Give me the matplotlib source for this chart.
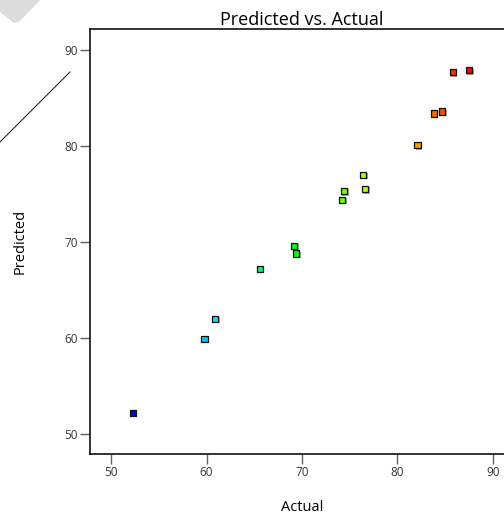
import numpy as np
import matplotlib.pyplot as plt
from matplotlib.colors import LinearSegmentedColormap
from matplotlib.patches import Polygon
from matplotlib.lines import Line2D
import matplotlib.patheffects as pe

plt.rcParams['font.family'] = ['Open Sans', 'DejaVu Sans']

# Datos (Actual vs Predicted)
actual = [52.3, 59.8, 60.9, 65.6, 69.2, 69.4, 74.2, 74.4, 76.4, 76.6,
          82.1, 83.8, 84.7, 85.8, 87.5]
predicted = [52.2, 59.9, 62.0, 67.2, 69.6, 68.8, 74.4, 75.3, 77.0, 75.5,
             80.1, 83.4, 83.6, 87.7, 87.9]
x_ticks = [50, 60, 70, 80, 90]
y_ticks = [50, 60, 70, 80, 90]

# Escala de color azul -> cian -> verde -> amarillo -> rojo
cmap = LinearSegmentedColormap.from_list(
    "de", ["#0000e0", "#00e5ff", "#00ff00", "#e5ff00", "#ff0000"])

fig = plt.figure(figsize=(5.04, 5.17), dpi=100)
ax = fig.add_axes([90/504, 1 - 454/517, 424/504, 425/517])

ax.scatter(actual, predicted, c=actual, cmap=cmap, marker='s', s=20,
           edgecolors='#111111', linewidths=0.9, zorder=3,
           path_effects=[pe.SimplePatchShadow(offset=(1, -1), shadow_rgbFace='#888888', alpha=0.7),
                         pe.Normal()])

ax.set_xlim(47.8, 92.2)
ax.set_ylim(47.9, 92.2)
ax.set_xticks(x_ticks)
ax.set_yticks(y_ticks)
ax.tick_params(direction='out', length=7, width=1, colors='#606060',
               labelcolor='#333333', labelsize=8.5, pad=2)
for s in ['left', 'bottom', 'top', 'right']:
    ax.spines[s].set_linewidth(1.2)
    ax.spines[s].set_color('#111111')

ax.set_title("Predicted vs. Actual", fontsize=13, pad=3)
ax.set_xlabel("Actual", fontsize=10.5, labelpad=15)
ax.set_ylabel("Predicted", fontsize=10.5, labelpad=26)

# Restos del recorte de la figura original (esquina superior izquierda)
fig.patches.append(Polygon([[0, 1], [40/504, 1], [20/504, 1 - 21/517],
                            [14/504, 1 - 23/517], [0, 1 - 12/517]],
                           closed=True, transform=fig.transFigure,
                           facecolor='#dcdcdc', edgecolor='none'))
fig.lines.append(Line2D([0, 70/504], [1 - 142/517, 1 - 72/517],
                        transform=fig.transFigure, color='#222222', lw=0.8))

fig.savefig("out.png", dpi=100)
